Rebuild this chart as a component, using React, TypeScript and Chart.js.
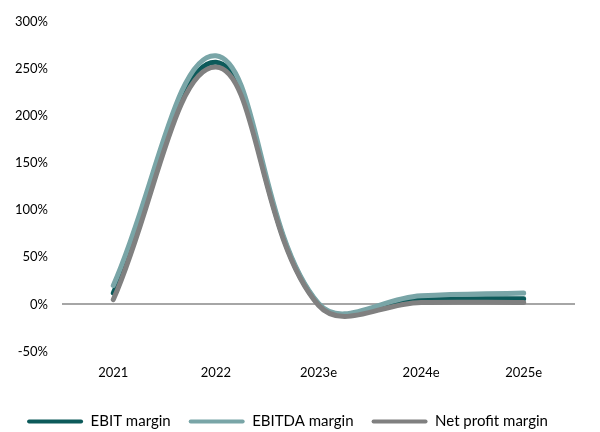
import React, { useEffect, useRef } from "react";
import { Chart, registerables } from "chart.js";

Chart.register(...registerables);

const categories = ["2021", "2022", "2023e", "2024e", "2025e"];
const ebitMargin = [12, 257, 0, 5, 6];
const ebitdaMargin = [20, 264, 1, 9, 12];
const netProfitMargin = [5, 252, -1, 2, 2];
const yTicks = [-50, 0, 50, 100, 150, 200, 250, 300];

export default function App() {
  const ref = useRef<HTMLCanvasElement | null>(null);
  useEffect(() => {
    document.body.style.margin = "0";
    const ctx = ref.current!;
    const font = { family: "Lato, 'Open Sans', sans-serif", size: 13 };
    const legendFont = { family: "Lato, 'Open Sans', sans-serif", size: 15 };
    const chart = new Chart(ctx, {
      type: "line",
      data: {
        labels: categories,
        datasets: [
          { label: "EBIT margin", data: ebitMargin, borderColor: "#0c5a5a", backgroundColor: "#0c5a5a", order: 3 },
          { label: "EBITDA margin", data: ebitdaMargin, borderColor: "#79a5a7", backgroundColor: "#79a5a7", order: 2 },
          { label: "Net profit margin", data: netProfitMargin, borderColor: "#808080", backgroundColor: "#808080", order: 1 },
        ].map((d) => ({
          ...d,
          borderWidth: 5,
          tension: 0.4,
          pointRadius: 0,
          pointHoverRadius: 0,
          borderCapStyle: "round" as const,
          fill: false,
        })),
      },
      options: {
        animation: false,
        responsive: false,
        layout: { padding: { top: 10, right: 25, left: 0, bottom: -7 } },
        plugins: {
          tooltip: { enabled: false },
          legend: {
            position: "bottom",
            labels: {
              font: legendFont,
              color: "#000",
              boxWidth: 56,
              boxHeight: 4,
              useBorderRadius: true,
              borderRadius: 2,
              padding: 18,
              sort: (a: any, b: any) => a.datasetIndex - b.datasetIndex,
              generateLabels: (c: any) =>
                Chart.defaults.plugins.legend.labels.generateLabels(c).map((l: any) => ({
                  ...l,
                  lineWidth: 0,
                  strokeStyle: "transparent",
                })),
            },
          },
        },
        scales: {
          x: {
            offset: true,
            grid: { display: false },
            border: { display: false },
            ticks: { font, color: "#000", padding: 6 },
            afterFit: (s: any) => {
              s.height += 9;
            },
          },
          y: {
            min: -50,
            max: 300,
            afterBuildTicks: (s: any) => {
              s.ticks = yTicks.map((v) => ({ value: v }));
            },
            afterFit: (s: any) => {
              s.width = 62;
            },
            border: { display: false },
            grid: {
              drawTicks: false,
              color: (c: any) => (c.tick && c.tick.value === 0 ? "#a6a6a6" : "transparent"),
              lineWidth: 2,
            },
            ticks: {
              font,
              color: "#000",
              padding: 14,
              callback: (v: any) => v + "%",
            },
          },
        },
      },
    });
    return () => chart.destroy();
  }, []);
  return <canvas ref={ref} width={600} height={432} style={{ display: "block" }} />;
}
